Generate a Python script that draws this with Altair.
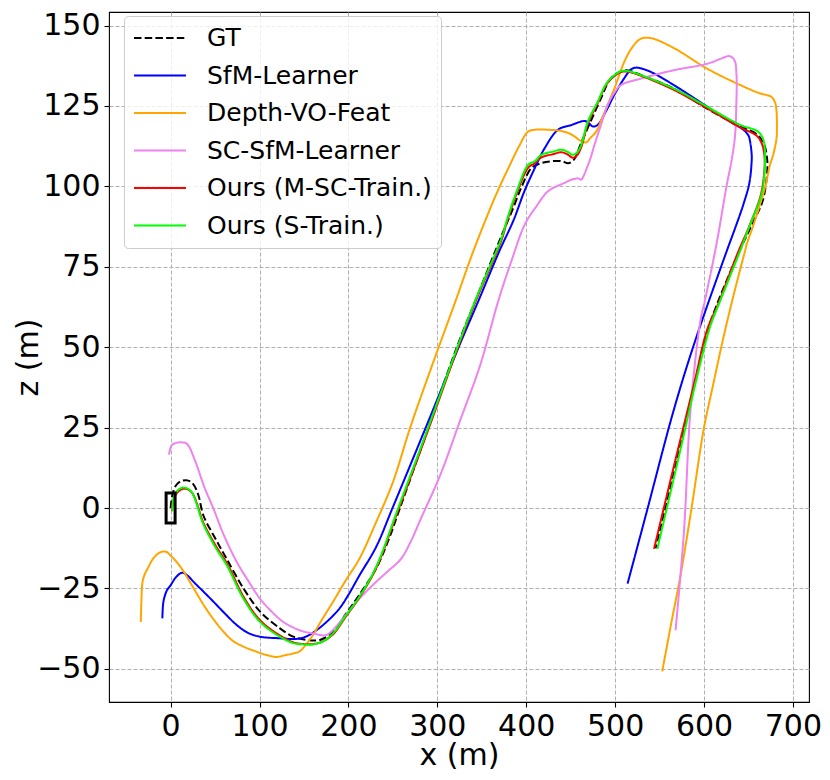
import altair as alt
import pandas as pd

series_names = ["GT", "SfM-Learner", "Depth-VO-Feat", "SC-SfM-Learner",
                "Ours (M-SC-Train.)", "Ours (S-Train.)"]
series_colors = ["black", "blue", "orange", "violet", "red", "lime"]
series_dashes = [[7.5, 3.2], [1, 0], [1, 0], [1, 0], [1, 0], [1, 0]]

x_ticks = [0, 100, 200, 300, 400, 500, 600, 700]
z_ticks = [-50, -25, 0, 25, 50, 75, 100, 125, 150]

start_x = [0]
start_z = [0]

gt_x = [0, 2, 6, 12, 19, 25, 31, 37, 50, 63, 82, 101, 123, 138, 153, 168, 183, 197, 212, 231,
        245, 258, 290, 322, 346, 372, 385, 395, 406, 417, 428, 440, 447, 451, 455, 461, 469, 484,
        495, 507, 515, 529, 566, 603, 641, 659, 667, 671, 671, 666, 656, 640, 605, 590.5, 569.5, 545.5]
gt_z = [0, 4, 7, 8.4, 8.6, 7.6, 4.2, -2.4, -9.3, -15.8, -25, -32.3, -37.4, -40, -41, -41, -38.4, -33, -27.1, -18.9,
        -10, 0, 25, 50, 66.6, 84.5, 93, 100, 105.7, 107.2, 107.8, 107.8, 107.2, 107.6, 108.8, 113, 118, 127.3,
        133.5, 135.8, 136, 134.6, 130.4, 124.2, 118.6, 116.3, 113.5, 108.5, 104, 95.5, 89.2, 80, 56, 40, 15, -12.5]

sfm_x = [-9.3, -8.5, -7.4, -4, 0, 6, 13, 19, 26, 37, 48.5, 60, 74.5, 87, 100.6, 123, 141.6, 152, 164, 177,
         190, 200, 212.3, 231, 249.6, 287, 324, 346.4, 370, 385.5, 398, 409.7, 420, 435.8, 450, 466, 471,
         474.9, 480.4, 490, 499, 510, 518, 523.3, 530, 540, 566, 603.4, 630, 644.3, 650, 651.8, 653.6,
         653.6, 651, 644.3, 635, 625.7, 589, 566, 536.3, 514]
sfm_z = [-34.3, -30, -28.2, -25.5, -24, -21.5, -20.1, -21, -23, -26, -29.2, -32.5, -36.4, -38.8, -40, -40.5, -40.7, -40, -38, -35,
         -31.2, -27, -21, -12.2, 0, 25, 50, 64.5, 80, 89.3, 98.5, 105.7, 111.5, 117.6, 119, 120.3, 119.5,
         118.6, 119.1, 123.5, 128.4, 133.5, 136.4, 136.9, 136.6, 135.6, 131.5, 124.8, 120, 117.6, 115.8, 114, 110,
         107.8, 101, 94.4, 87, 80, 51.1, 30.5, -0.4, -23.5]

dvf_x = [-33.5, -33, -31.6, -29, -26, -19, -11.2, -5, 0, 7, 15, 26, 37.3, 48, 59.7, 70, 82, 95, 108, 119.2,
         128, 137.9, 145, 152, 160, 170, 182.6, 197, 212.3, 231, 250, 269.5, 295, 320.7, 338, 353.9, 367,
         380, 392, 402, 409.7, 425, 439.6, 448, 454.4, 462, 467.5, 472, 478.7, 485, 491.6, 500, 510.3, 520,
         529, 540, 566, 603.4, 640.7, 662, 676, 680, 681.6, 682, 681.6, 678, 674.2, 669, 663, 655, 648,
         646.2, 634, 622, 610, 599.6, 586, 573.6, 563, 553]
dvf_z = [-35.4, -30, -23, -20.5, -18.9, -15.5, -13.7, -13.6, -14.8, -16.8, -19.9, -25, -30.2, -34.5, -38.5, -41.3, -43.1, -44.5, -45.7, -46.3,
         -45.8, -45.2, -44.6, -42.5, -39.5, -34.8, -29.2, -22.5, -15.8, -4.5, 8, 25, 45, 64.5, 78, 89.3, 98,
         105.7, 112.5, 117, 117.6, 117.6, 117.2, 116.5, 115.5, 114, 113.7, 115, 117, 121, 125.3, 131, 138.7, 143.5,
         145.9, 146.1, 143, 136.6, 131.5, 129, 127.8, 126, 123.2, 118, 115, 110, 106.7, 100, 94.4, 87.5, 82,
         80, 67, 53.2, 38, 24.4, 0, -20.9, -36, -50.8]

sc_x = [-1.8, 0, 1.9, 7, 13, 17, 20.6, 25, 29.8, 38, 48.5, 60, 74.5, 87, 100.6, 113, 126.7, 145.3, 160.2, 175,
        184, 193.7, 212.3, 231, 245, 258.9, 270, 281.2, 303.5, 325.9, 348.2, 368.7, 383, 398.5, 412, 424.6,
        443.2, 450, 454.4, 458, 462, 465, 467.5, 472, 476.8, 484, 491.6, 499, 506.6, 529, 566, 603.4, 620,
        627.6, 632, 635, 636.5, 636.8, 636.3, 635, 631, 625.7, 614, 601, 596, 584.8, 577.4, 568]
sc_z = [16.6, 18.8, 19.7, 20.3, 20.4, 20.2, 19.2, 16.5, 13, 6.5, -0.4, -8.5, -16.8, -22.5, -28.2, -32, -35.4, -38, -39, -39.5,
        -37.5, -34.3, -28.2, -23, -19.5, -15.9, -10.5, -3.5, 10.4, 27.4, 44.4, 64.5, 76.5, 88.2, 94, 98.5,
        101.1, 102, 102.3, 102.5, 102.1, 103.5, 105.2, 108.5, 112.9, 119, 125.3, 129, 131.5, 133.5, 136.1, 138.1, 139.8,
        140.5, 140, 138.7, 135, 131.5, 125, 116, 108, 100.6, 82, 64.5, 58.3, 30.5, -7.5, -38]

msc_x = [1.5, 3, 7.5, 13.5, 19.3, 24.5, 29.5, 36.5, 50.5, 64, 82.5, 101, 123.5, 138.5, 150, 160.5, 171.5, 182.6, 197, 212.3,
         231, 256.5, 290, 322.6, 342.7, 372.5, 378, 390, 402.2, 409.7, 417.2, 430, 439.6, 446, 452.5, 457, 461.9,
         469.3, 480.4, 491.6, 506.6, 515, 529, 566, 603.4, 640.7, 659, 665, 668, 667.5, 663.5, 651, 638.3, 616,
         603.4, 589, 566.1, 543.8]
msc_z = [-1, 2.3, 4.8, 5.9, 5.8, 4.6, 1.5, -4.3, -11.6, -17.5, -27.8, -35, -39.7, -41.8, -42.3, -42.3, -41.4, -39.3, -33.8, -27.8,
         -18.8, -0.3, 24.5, 49.5, 64, 83.5, 88.7, 98.3, 105.8, 107.2, 109, 110, 110.6, 110, 108.9, 109.6, 112.2,
         119.5, 125.9, 132.2, 135.5, 135.6, 134.4, 130, 124.3, 118.3, 115.8, 113.3, 109.5, 103.5, 97, 87.6, 79.5, 63.5,
         55.3, 38.8, 13, -12.7]

s_x = [1.9, 3, 7, 13, 18.7, 24, 29, 36, 50, 63.4, 82, 100.6, 123, 138, 150, 160, 171.4, 182.6, 197, 212.3,
       231, 256, 289.7, 322.6, 342.7, 372.5, 378, 390, 402.2, 409.7, 417.2, 430, 439.6, 446, 452.5, 457, 461.9,
       469.3, 480.4, 491.6, 506.6, 515, 529, 566, 603.4, 640.7, 661, 666.7, 668.6, 668, 664.7, 652, 640.7, 618.3,
       606.8, 592.2, 573.6, 547.5]
s_z = [-0.9, 2.5, 5.2, 6.3, 6.1, 4.8, 1.5, -4.5, -12, -17.9, -28.2, -35.4, -40, -42, -42.4, -42.4, -41.5, -39, -33.5, -27.6,
       -18.4, 0, 25, 50, 64.5, 84.1, 89.3, 99, 106.7, 107.8, 109.8, 110.8, 111.4, 110.8, 109.8, 110.5, 112.9,
       120.1, 126.3, 132.5, 135.8, 135.8, 134.6, 130.4, 124.8, 119.1, 117, 114.5, 110.9, 104, 97.5, 88.2, 80, 64.5,
       56.3, 40.8, 18.3, -12.7]

all_x = [gt_x, sfm_x, dvf_x, sc_x, msc_x, s_x]
all_z = [gt_z, sfm_z, dvf_z, sc_z, msc_z, s_z]

FONT = "DejaVu Sans"

x_enc = alt.X("x:Q",
              scale=alt.Scale(domain=[-69.3, 718.1], nice=False, zero=False),
              axis=alt.Axis(values=x_ticks, title="x (m)", format="d",
                            titleX=350, titleY=62, titleAlign="center",
                            titleBaseline="alphabetic", labelPadding=4,
                            labelFlush=False, labelOverlap=False))
y_enc = alt.Y("z:Q",
              scale=alt.Scale(domain=[-60.3, 154.2], nice=False, zero=False),
              axis=alt.Axis(values=z_ticks, title="z (m)", format="d",
                            titleX=-72, titleY=345, titleAngle=270,
                            titleAlign="center", titleBaseline="alphabetic",
                            labelPadding=4, labelOverlap=False))

leg = alt.Legend(title=None, orient="none", legendX=15, legendY=4,
                 symbolType="stroke", symbolSize=2704, symbolStrokeWidth=2,
                 clipHeight=26, labelFontSize=25, labelFont=FONT,
                 labelColor="black", labelLimit=400, labelOffset=20,
                 padding=9, rowPadding=11.5,
                 fillColor="rgba(255,255,255,0.8)", strokeColor="#cccccc",
                 cornerRadius=4)

layers = []
for name, xs, zs in zip(series_names, all_x, all_z):
    df = pd.DataFrame({"x": xs, "z": zs, "i": list(range(len(xs))),
                       "series": [name] * len(xs)})
    layers.append(
        alt.Chart(df).mark_line(strokeWidth=2, interpolate="catmull-rom").encode(
            x=x_enc, y=y_enc,
            color=alt.Color("series:N",
                            scale=alt.Scale(domain=series_names, range=series_colors),
                            legend=leg),
            strokeDash=alt.StrokeDash("series:N",
                                      scale=alt.Scale(domain=series_names, range=series_dashes),
                                      legend=leg),
            order="i:Q",
        )
    )

start_df = pd.DataFrame({"x": start_x, "z": start_z})
layers.append(
    alt.Chart(start_df).mark_point(shape="M-0.3,-1H0.3V1H-0.3Z", size=900,
                                   filled=False, color="black", strokeWidth=3,
                                   opacity=1).encode(x=x_enc, y=y_enc)
)

chart = alt.layer(*layers).properties(
    width=700, height=690,
    autosize=alt.AutoSizeParams(type="none"),
    padding={"left": 101, "top": 4, "right": 13, "bottom": 70},
).configure_view(
    stroke="black", strokeWidth=1.1
).configure_axis(
    grid=True, gridColor="#b0b0b0", gridDash=[4, 2], gridWidth=1,
    domain=False, ticks=True, tickColor="black", tickSize=5, tickWidth=1.1,
    labelFont=FONT, labelFontSize=30, labelColor="black",
    titleFont=FONT, titleFontSize=30, titleFontWeight="normal", titleColor="black",
)

chart.save("out.html", embed_options={"renderer": "svg", "actions": False})
